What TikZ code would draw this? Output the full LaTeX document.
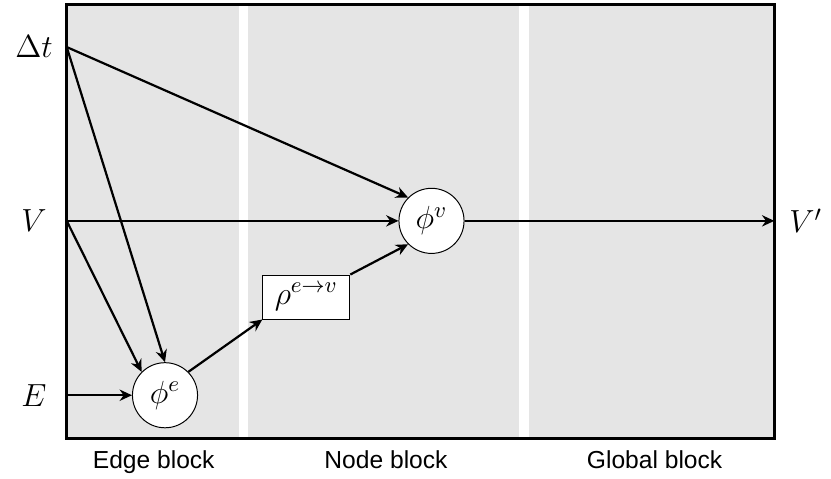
\RequirePackage{fix-cm}
\documentclass[tikz,border=0pt]{standalone}
\usepackage{fontspec}
\setsansfont{Liberation Sans}
\usetikzlibrary{arrows.meta}

\begin{document}
\begin{tikzpicture}[>={Stealth[length=5pt, width=4.6pt]}, every node/.style={font=\fontsize{13}{15}\selectfont},
    blockbg/.style={fill=gray!20},
    blocklabel/.style={anchor=base, font=\sffamily},
    func/.style={draw, circle, fill=white, line width=0.4pt, minimum size=0.93cm, inner sep=0pt},
    flow/.style={->, line width=0.9pt}]
    \useasboundingbox (0,0) rectangle (11.871,6.829);

    % Blocks
    \fill[blockbg] (0.953,0.567) rectangle (3.418,6.771);
    \fill[blockbg] (3.547,0.567) rectangle (7.419,6.771);
    \fill[blockbg] (7.553,0.567) rectangle (11.061,6.771);
    \draw[line width=1.2pt] (0.953,0.567) rectangle (11.061,6.771);
    \node[blocklabel] (edgelab) at (2.196,0.139) {Edge block};
    \node[blocklabel] (nodelab) at (5.514,0.139) {Node block};
    \node[blocklabel] (globlab) at (9.351,0.139) {Global block};

    % Inputs and output
    \node (dt) at (0.486,6.157) {$\Delta t$};
    \node (v) at (0.486,3.674) {$V$};
    \node (e) at (0.486,1.183) {$E$};
    \node (vout) at (11.51,3.674) {$V'$};
    \coordinate (dtin) at (0.953,6.157);
    \coordinate (vin) at (0.953,3.674);
    \coordinate (ein) at (0.953,1.183);
    \coordinate (vend) at (11.061,3.674);

    % Update and aggregation functions
    \node[func] (phie) at (2.357,1.183) {$\phi^e$};
    \node[draw, fill=white, line width=0.4pt, minimum width=1.243cm, minimum height=0.629cm] (rho) at (4.376,2.586) {$\rho^{e\rightarrow v}$};
    \node[func] (phiv) at (6.164,3.674) {$\phi^v$};

    % Connections
    \draw[flow] (dtin) -- (phiv.north west);
    \draw[flow] (dtin) -- (phie.north);
    \draw[flow] (vin) -- (phiv.west);
    \draw[flow] (vin) -- (phie.north west);
    \draw[flow] (ein) -- (phie.west);
    \draw[flow] (phie.north east) -- (rho.south west);
    \draw[flow] (rho.north east) -- (phiv.south west);
    \draw[flow] (phiv.east) -- (vend);
\end{tikzpicture}
\end{document}
